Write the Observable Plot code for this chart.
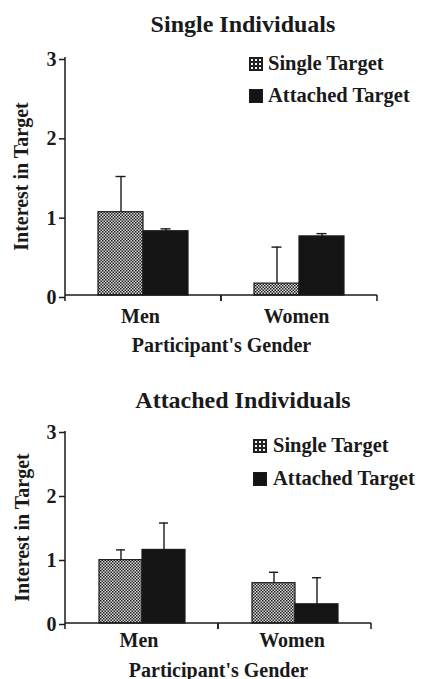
<!DOCTYPE html>
<html>
<head>
<meta charset="utf-8">
<script src="https://cdn.jsdelivr.net/npm/d3@7"></script>
<script src="https://cdn.jsdelivr.net/npm/@observablehq/plot@0.6"></script>
<style>
  html, body { margin: 0; padding: 0; background: #fff; }
  #chart { position: relative; width: 422px; height: 679px; overflow: hidden;
    font-family: "Liberation Serif", "Times New Roman", serif; font-weight: bold; color: #1a1a1a; }
  #chart > svg.plot { position: absolute; left: 0; }
  .txt { position: absolute; white-space: nowrap; line-height: 1; }
  .sw { position: absolute; }
</style>
</head>
<body>
<svg width="0" height="0" style="position:absolute">
  <defs>
    <pattern id="checker" patternUnits="userSpaceOnUse" width="3" height="3">
      <rect width="3" height="3" fill="#dedede"></rect>
      <rect width="1.5" height="1.5" fill="#1e1e1e"></rect>
      <rect x="1.5" y="1.5" width="1.5" height="1.5" fill="#1e1e1e"></rect>
    </pattern>
    <pattern id="checkerLegend" patternUnits="userSpaceOnUse" x="1" y="1" width="4" height="4">
      <rect width="4" height="4" fill="#222"></rect>
      <rect x="1" y="1" width="2" height="2" fill="#f4f4f4"></rect>
    </pattern>
  </defs>
</svg>
<div id="chart"></div>
<script>
// ---- data ----
const genders = ["Men", "Women"];
const targets = ["Single Target", "Attached Target"];
const yTicks = [0, 1, 2, 3];
const panelTitles = ["Single Individuals", "Attached Individuals"];
const yLabel = "Interest in Target";
const xLabel = "Participant's Gender";

// Panel 1: Single Individuals (means and top of error bar)
const p1SingleTarget = [1.05, 0.15];
const p1SingleTargetUpper = [1.50, 0.61];
const p1AttachedTarget = [0.81, 0.745];
const p1AttachedTargetUpper = [0.84, 0.78];

// Panel 2: Attached Individuals
const p2SingleTarget = [0.99, 0.63];
const p2SingleTargetUpper = [1.15, 0.80];
const p2AttachedTarget = [1.15, 0.30];
const p2AttachedTargetUpper = [1.57, 0.715];

// ---- style ----
const FONT = '"Liberation Serif", "Times New Roman", serif';
const ink = "#1a1a1a";
const black = "#141414";
const fills = ["url(#checker)", black];
const legendFills = ["url(#checkerLegend)", black];

function rowsFor(sm, su, am, au) {
  return genders.flatMap((g, i) => [
    {gender: g, target: targets[0], mean: sm[i], upper: su[i]},
    {gender: g, target: targets[1], mean: am[i], upper: au[i]}
  ]);
}

function axisLines(tickLen) {
  const rows = genders.map(g => ({gender: g, base: yTicks[0]}));
  return Plot.ruleY(rows, {
    fx: "gender", y: "base",
    render(index, scales) {
      if (!index.length) return null;
      const {x, y} = scales;
      const [r0, r1] = x.range();
      const [d0, d1] = y.domain();
      const yb = y(d0), yt = y(d1);
      const g = d3.create("svg:g").attr("stroke", ink).attr("stroke-width", 1.5).attr("fill", "none");
      g.append("line").attr("x1", r0).attr("x2", r1).attr("y1", yb).attr("y2", yb);
      g.append("line").attr("x1", r0).attr("x2", r0).attr("y1", yb).attr("y2", yb + tickLen);
      g.append("line").attr("x1", r1).attr("x2", r1).attr("y1", yb).attr("y2", yb + tickLen);
      if (rows[index[0]].gender === genders[0]) {
        g.append("line").attr("x1", r0).attr("x2", r0).attr("y1", yb).attr("y2", yt);
      }
      return g.node();
    }
  });
}

function panel(rows, L) {
  return Plot.plot({
    width: 422, height: L.height,
    marginTop: L.mt, marginBottom: L.mb, marginLeft: L.ml, marginRight: L.mr,
    style: {fontFamily: FONT, fontSize: "20px", fontWeight: "bold", color: ink, background: "transparent", overflow: "visible"},
    fx: {domain: genders, padding: 0},
    x: {domain: targets, paddingInner: 0, paddingOuter: L.po, axis: null},
    y: {domain: [yTicks[0], yTicks[yTicks.length - 1]]},
    color: {domain: targets, range: fills},
    marks: [
      Plot.barY(rows, {fx: "gender", x: "target", y: "mean", fill: "target", stroke: ink, strokeWidth: 1.2}),
      Plot.ruleX(rows, {fx: "gender", x: "target", y1: "mean", y2: "upper", stroke: ink, strokeWidth: 1.4}),
      Plot.tickY(rows, {fx: "gender", x: "target", y: "upper", insetLeft: L.cap, insetRight: L.cap, stroke: ink, strokeWidth: 1.4}),
      axisLines(6),
      Plot.axisY({ticks: yTicks, tickFormat: d => String(d), tickSize: 6, tickPadding: 3, dy: L.ydy,
        stroke: ink, strokeWidth: 1.5,
        label: yLabel, labelAnchor: "center", labelArrow: false, labelOffset: L.ylo}),
      Plot.axisFx({anchor: "bottom", tickSize: 0, tickPadding: L.fxp, dx: -3,
        label: xLabel, labelAnchor: "center", labelArrow: false, labelOffset: L.fxlo})
    ]
  });
}

const layouts = [
  {top: 0, height: 360, mt: 57, mb: 65, ml: 65, mr: 45, po: 0.73, cap: 17.5, ydy: 2, ylo: 52, fxp: 13, fxlo: 56,
   title: {x: 243, base: 32}, legend: {sx: 249, tx: 268, rows: [63.5, 95.5]}},
  {top: 360, height: 319, mt: 71, mb: 56, ml: 64, mr: 51, po: 0.75, cap: 17, ydy: 1, ylo: 51, fxp: 9, fxlo: 53,
   title: {x: 243, base: 408}, legend: {sx: 253, tx: 273, rows: [446, 479]}}
];

const panelRows = [
  rowsFor(p1SingleTarget, p1SingleTargetUpper, p1AttachedTarget, p1AttachedTargetUpper),
  rowsFor(p2SingleTarget, p2SingleTargetUpper, p2AttachedTarget, p2AttachedTargetUpper)
];

const chart = document.getElementById("chart");

function addText(str, size, left, baseline, center) {
  const el = document.createElement("div");
  el.className = "txt";
  el.textContent = str;
  el.style.fontSize = size + "px";
  el.style.top = (baseline - 0.8375 * size) + "px";
  el.style.left = left + "px";
  if (center) el.style.transform = "translateX(-50%)";
  chart.appendChild(el);
}

function addSwatch(fill, left, cy) {
  const s = d3.create("svg").attr("class", "sw").attr("width", 14).attr("height", 14)
    .style("left", left + "px").style("top", (cy - 7) + "px");
  s.append("rect").attr("x", 0.5).attr("y", 0.5).attr("width", 13).attr("height", 13)
    .attr("fill", fill).attr("stroke", ink).attr("stroke-width", 1);
  chart.appendChild(s.node());
}

layouts.forEach((L, k) => {
  const svg = panel(panelRows[k], L);
  svg.classList.add("plot");
  svg.style.top = L.top + "px";
  chart.appendChild(svg);
  addText(panelTitles[k], 24, L.title.x, L.title.base, true);
  targets.forEach((t, j) => {
    addSwatch(legendFills[j], L.legend.sx, L.legend.rows[j]);
    addText(t, 20.5, L.legend.tx, L.legend.rows[j] + 6.6, false);
  });
});
</script>
</body>
</html>
